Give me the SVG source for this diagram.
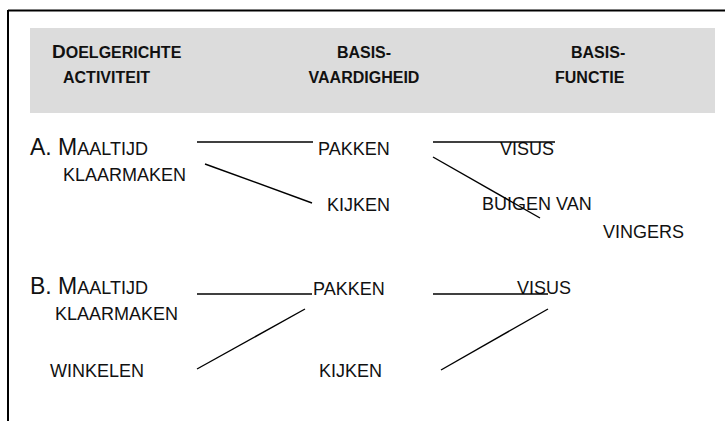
<svg xmlns="http://www.w3.org/2000/svg" width="725" height="421" viewBox="0 0 725 421">
<style>
.h{font-family:"Liberation Sans",Arial,sans-serif;font-weight:700;font-size:16px;fill:#111;text-transform:uppercase}
.hb{font-size:19px}
.t{font-family:"Liberation Sans",Arial,sans-serif;font-size:18px;fill:#111;text-transform:uppercase}
.tb{font-size:23px}
.c line{stroke:#000;stroke-width:1.4}
</style>
<rect width="725" height="421" fill="#fff"/>
<g id="frame">
<line x1="8" y1="10.5" x2="725" y2="10.5" stroke="#000" stroke-width="2"/>
<line x1="8" y1="10" x2="8" y2="421" stroke="#000" stroke-width="2"/>
</g>
<g id="header">
<rect x="30" y="28" width="685" height="85" fill="#dcdcdc"/>
<text class="h" font-weight="bold" x="52" y="58"><tspan class="hb">D</tspan><tspan>OELGERICHTE</tspan></text>
<text class="h" font-weight="bold" x="63" y="83">ACTIVITEIT</text>
<text class="h" font-weight="bold" x="364" y="58" text-anchor="middle">BASIS-</text>
<text class="h" font-weight="bold" x="364" y="83" text-anchor="middle">VAARDIGHEID</text>
<text class="h" font-weight="bold" x="571" y="58">BASIS-</text>
<text class="h" font-weight="bold" x="555" y="83">FUNCTIE</text>
</g>
<g id="a-activiteit">
<text class="t" x="30" y="155"><tspan class="tb">A. M</tspan><tspan>AALTIJD</tspan></text>
<text class="t" x="63" y="181">KLAARMAKEN</text>
</g>
<g id="a-pakken"><text class="t" x="318" y="155">PAKKEN</text></g>
<g id="a-kijken"><text class="t" x="327" y="211">KIJKEN</text></g>
<g id="a-visus"><text class="t" x="500" y="155">VISUS</text></g>
<g id="a-buigen">
<text class="t" x="482" y="210">BUIGEN VAN</text>
<text class="t" x="603" y="238">VINGERS</text>
</g>
<g id="b-activiteit">
<text class="t" x="30" y="294"><tspan class="tb">B. M</tspan><tspan>AALTIJD</tspan></text>
<text class="t" x="55" y="320">KLAARMAKEN</text>
</g>
<g id="b-winkelen"><text class="t" x="50" y="377">WINKELEN</text></g>
<g id="b-pakken"><text class="t" x="313" y="295">PAKKEN</text></g>
<g id="b-kijken"><text class="t" x="319" y="377">KIJKEN</text></g>
<g id="b-visus"><text class="t" x="517" y="294">VISUS</text></g>
<g id="connectors" class="c">
<line x1="197" y1="142" x2="313" y2="142"/>
<line x1="205" y1="164" x2="312" y2="203"/>
<line x1="433" y1="142" x2="555" y2="142"/>
<line x1="433" y1="157" x2="540" y2="218"/>
<line x1="197" y1="294" x2="312" y2="294"/>
<line x1="197" y1="369" x2="305" y2="309"/>
<line x1="433" y1="294" x2="548" y2="294"/>
<line x1="441" y1="370" x2="548" y2="309"/>
</g>
</svg>
